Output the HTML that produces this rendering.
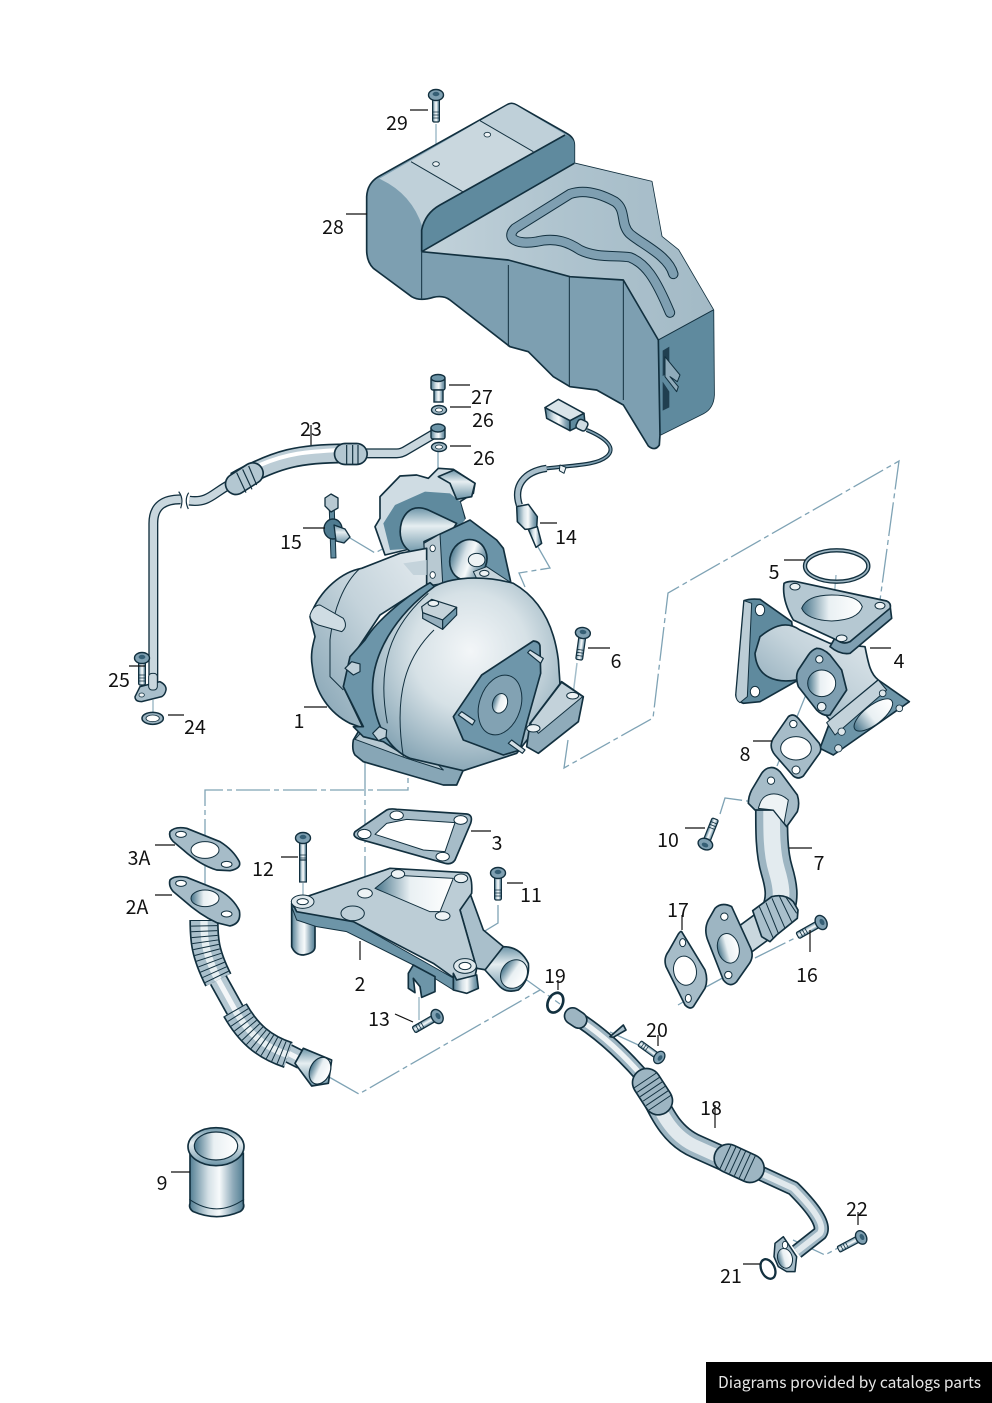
<!DOCTYPE html>
<html><head><meta charset="utf-8"><title>Turbocharger parts diagram</title>
<style>
html,body{margin:0;padding:0;background:#fff}
svg{display:block}
text{font-family:"Noto Sans CJK JP","Liberation Sans",sans-serif;font-size:19.5px;fill:#111;text-anchor:middle}
.l{stroke:#111;stroke-width:1.2;fill:none}
.d{stroke:#7fa3b5;stroke-width:1.3;fill:none;stroke-dasharray:34 4 5 4}
.s{stroke:#a3bdca;stroke-width:1.5;fill:none}
</style></head><body>
<svg width="992" height="1403" viewBox="0 0 992 1403" xmlns="http://www.w3.org/2000/svg">
<defs>
<linearGradient id="cyl" x1="0" x2="1" y1="0" y2="0"><stop offset="0" stop-color="#517d92"/><stop offset=".35" stop-color="#d5e1e7"/><stop offset=".55" stop-color="#f7fafb"/><stop offset=".8" stop-color="#8fabba"/><stop offset="1" stop-color="#517d92"/></linearGradient>
<linearGradient id="cylv" x1="0" x2="0" y1="0" y2="1"><stop offset="0" stop-color="#6d95a8"/><stop offset=".4" stop-color="#e6eef1"/><stop offset="1" stop-color="#6d95a8"/></linearGradient>
<linearGradient id="flat" x1="0" x2="1" y1="0" y2="0"><stop offset="0" stop-color="#c2d2da"/><stop offset=".5" stop-color="#aec3ce"/><stop offset="1" stop-color="#a3bac6"/></linearGradient>
<linearGradient id="hsg" x1="1" x2="0" y1="0" y2="1"><stop offset="0" stop-color="#e4ebef"/><stop offset=".45" stop-color="#c4d3db"/><stop offset="1" stop-color="#7f9fb0"/></linearGradient>
<radialGradient id="main" cx=".52" cy=".38" r=".68"><stop offset="0" stop-color="#f3f6f8"/><stop offset=".45" stop-color="#d6e1e6"/><stop offset="1" stop-color="#7d9eaf"/></radialGradient>
<linearGradient id="hole" x1="0" x2="1" y1="0" y2="0"><stop offset="0" stop-color="#47748a"/><stop offset=".45" stop-color="#e9f0f3"/><stop offset="1" stop-color="#fff"/></linearGradient>
<g id="bolt"><rect x="-3.4" y="2" width="6.8" height="26" rx="1.5" fill="url(#cyl)" stroke="#12303f" stroke-width="1.2"/><path d="M-3.4 18h6.8M-3.4 21h6.8M-3.4 24h6.8" stroke="#12303f" stroke-width=".8"/><ellipse cx="0" cy="1" rx="7.5" ry="5.5" fill="#7fa0b2" stroke="#12303f" stroke-width="1.4"/><ellipse cx="0" cy="0" rx="3.4" ry="2.2" fill="#355f75"/></g>
</defs>

<!-- dash connector lines behind parts -->
<g>
<path class="d" d="M205 900V790H408V774"/>
<path class="d" d="M365 762V895"/>
<path class="d" d="M568 740L564 768L653 718L668 593L899 461L880 600"/>
<path class="d" d="M538 547L550 568L519 573L525 587"/>
<path class="d" d="M345 535L375 553L408 535L425 547"/>
<path class="d" d="M438 445V588"/>
<path class="s" d="M436 124V163"/>
<path class="d" d="M329 1077L359 1094L540 990"/>
<path class="d" d="M517 973L560 1004"/>
<path class="d" d="M720 814L725 798L762 803L820 660"/>
<path class="d" d="M706 987L728 975M755 958L795 938"/>
<path class="d" d="M498 905V923L465 943V963"/>
<path class="s" d="M303 883V900M419 997V1020M142 680V692M153 700V712"/>
<path class="s" d="M577 663L573 695"/>
<path class="d" d="M610 1032L645 1048"/>
<path class="d" d="M793 1240L825 1255L838 1248"/>
<path class="s" d="M836 575L833 612"/>
<path class="d" d="M678 1005L700 992"/>
</g>

<!-- 28 heat shield -->
<g transform="translate(340,80) scale(.33333)" stroke="#12303f" stroke-width="5" stroke-linejoin="round">
<path fill="#7d9fb1" d="M500 75Q515 65 530 75L680 160Q703 172 703 195V250L935 305L965 470L1015 510L1120 690L1122 945Q1120 985 1090 1000L960 1065L958 1095Q945 1115 925 1098L850 975L770 930L690 920L640 890L565 815L510 800L330 660Q310 645 280 652Q240 665 215 650L100 565Q80 545 80 510V350Q82 310 115 290Z"/>
<path stroke="none" fill="#bfd0d9" d="M118 296L500 77Q515 68 530 77L675 163L300 375Q262 395 247 440Q215 340 118 296Z"/>
<path stroke="none" fill="#c9d7de" d="M213 245L420 122L580 215L368 335Z"/>
<path stroke="none" fill="#5f8a9e" d="M675 165Q703 172 703 195V250L245 515V450Q255 400 300 375Z"/>
<path stroke="none" fill="url(#flat)" d="M703 250L935 305L965 470L1015 510L1120 690L955 780L850 600L690 590L505 540L245 515Z"/>
<path fill="none" stroke="#12303f" stroke-width="31" stroke-linecap="round" d="M1000 582C985 525 900 490 868 460C840 430 860 390 825 365C770 335 725 330 690 342L525 445C495 475 530 495 590 485C650 470 690 490 720 510C770 535 830 525 870 532C915 550 945 590 990 698"/>
<path fill="none" stroke="#7f9fb1" stroke-width="25" stroke-linecap="round" d="M1000 582C985 525 900 490 868 460C840 430 860 390 825 365C770 335 725 330 690 342L525 445C495 475 530 495 590 485C650 470 690 490 720 510C770 535 830 525 870 532C915 550 945 590 990 698"/>
<path stroke="none" fill="#5f8a9e" d="M955 780L1120 690L1122 945Q1120 985 1090 1000L960 1065Z"/>
<path fill="none" d="M245 515L505 540L690 590L850 600L955 780L960 1065M245 515L703 250M245 515V450Q255 400 300 375L675 165"/>
<path fill="none" stroke-width="3" d="M245 515V655M505 555V800M688 590V920M850 600V960M955 780L1120 690M213 245L368 335M420 122L580 215"/>
<path fill="#203f50" stroke="none" d="M968 812L988 800V878L968 888ZM968 905L988 935V982L968 992Z"/>
<path fill="#8fabba" stroke-width="3" d="M975 830L1020 885L1012 905L990 890L1015 920L1010 935L975 890Z"/>
<ellipse cx="288" cy="252" rx="10" ry="7" fill="#eef3f5" stroke-width="2.5"/><ellipse cx="442" cy="164" rx="10" ry="7" fill="#eef3f5" stroke-width="2.5"/>
</g>

<use href="#bolt" transform="translate(436,94)"/>

<!-- 27/26 -->
<g stroke="#12303f" stroke-width="1.4">
<rect x="431" y="377" width="14" height="13" rx="2" fill="url(#cyl)"/><rect x="434" y="390" width="9" height="12" fill="url(#cyl)"/><ellipse cx="438" cy="378" rx="7" ry="3.5" fill="#6d95a8"/>
<ellipse cx="439" cy="410" rx="7.5" ry="4.5" fill="#a3bbc7"/><ellipse cx="439" cy="410" rx="3.5" ry="2" fill="#fff" stroke-width=".8"/>
<ellipse cx="439" cy="447" rx="7.5" ry="4.5" fill="#a3bbc7"/><ellipse cx="439" cy="447" rx="3.5" ry="2" fill="#fff" stroke-width=".8"/>
</g>

<!-- 14 sensor -->
<g transform="translate(400,370) scale(.33333)" stroke="#12303f" stroke-width="4.5" stroke-linejoin="round">
<path fill="none" stroke-width="12" d="M560 180C620 205 650 235 620 260C590 285 530 285 440 295"/>
<path fill="none" stroke="#7f9fb1" stroke-width="5" d="M560 180C620 205 650 235 620 260C590 285 530 285 440 295"/>
<path fill="none" stroke-width="22" d="M440 295C370 305 340 350 358 405"/>
<path fill="none" stroke="#a9bfcb" stroke-width="14" d="M440 295C370 305 340 350 358 405"/>
<path fill="#d9e4e9" d="M435 113L475 88L552 130L510 152Z"/>
<path fill="url(#cyl)" d="M435 113L510 152V182L440 145Z"/>
<path fill="#5f8a9e" d="M510 152L552 130L555 160L510 182Z"/>
<rect x="530" y="150" width="32" height="30" rx="9" fill="#cfdce3" transform="rotate(25 545 165)"/>
<path fill="#eef3f5" d="M480 285L498 292L492 310L478 302Z" stroke-width="3"/>
<path fill="url(#cyl)" d="M350 410L385 403L412 440L410 475L375 478L352 455Z"/>
<path fill="url(#cyl)" d="M385 478L412 470L425 520L408 532Z"/>
</g>

<!-- 23 oil pipe -->
<g transform="translate(120,410) scale(.33333)" fill="none" stroke-linejoin="round">
<g stroke="#12303f" stroke-width="30"><path d="M100 840V340C100 285 135 268 182 268"/><path d="M208 272C270 280 280 245 345 215"/><path d="M730 130H830Q845 130 860 120L945 70"/></g>
<g stroke="#c9d7de" stroke-width="22"><path d="M100 840V340C100 285 135 268 182 268"/><path d="M208 272C270 280 280 245 345 215"/><path d="M730 130H830Q845 130 860 120L945 70"/></g>
<path stroke="#12303f" stroke-width="60" d="M345 215C470 145 540 130 680 130"/>
<path stroke="#bccdd6" stroke-width="50" d="M345 215C470 145 540 130 680 130"/>
<path stroke="#fff" stroke-width="12" d="M420 165C500 130 560 125 660 120"/>
<path stroke="#12303f" stroke-width="68" stroke-linecap="round" d="M348 222L398 190M675 132H710"/>
<path stroke="#b3c7d1" stroke-width="58" stroke-linecap="round" d="M348 222L398 190M675 132H710"/>
<path stroke="#12303f" stroke-width="3.5" d="M350 188L378 248M368 178L396 238M386 168L410 225M680 105V162M698 105V163M714 105V163"/>
<path stroke="#12303f" stroke-width="3.5" d="M176 245Q192 265 182 295M206 248Q192 270 205 297"/>
<path fill="#a9bfcb" stroke="#12303f" stroke-width="4.5" d="M45 860L60 830L120 815Q140 825 138 840Q135 855 125 860L65 875Q45 875 45 860Z"/>
<rect x="86" y="790" width="26" height="50" rx="10" fill="#c9d7de" stroke="#12303f" stroke-width="3"/>
<ellipse cx="65" cy="855" rx="8" ry="6" fill="#eef3f5" stroke="#12303f" stroke-width="2.5"/>
<ellipse cx="98" cy="925" rx="32" ry="18" fill="#9db5c2" stroke="#12303f" stroke-width="4.5"/><ellipse cx="98" cy="925" rx="20" ry="10" fill="#fff" stroke="#12303f" stroke-width="2.5"/>
</g>
<use href="#bolt" transform="translate(142,657)"/>
<g stroke="#12303f" stroke-width="1.4"><rect x="431" y="426" width="14" height="13" rx="2" fill="url(#cyl)"/><ellipse cx="438" cy="428" rx="7" ry="4" fill="#6d95a8"/></g>

<!-- 1 turbo -->
<g transform="translate(300,460) scale(.33333)" stroke="#12303f" stroke-width="5" stroke-linejoin="round">
<path fill="#cfdce3" d="M240 110L300 48L350 45L385 55L415 25L460 28L525 70L520 100L480 125L495 175L440 240L255 285L225 200L240 175Z"/>
<path stroke="none" fill="#5f8a9e" d="M250 190L285 135L375 95L450 100L480 125L495 180L420 260L270 270Z"/>
<path fill="url(#cylv)" d="M305 185C320 145 350 135 385 150L470 190L430 250L340 280C300 260 295 220 305 185Z"/>
<path fill="url(#cylv)" d="M415 50L462 30L525 70L515 110L470 118L450 70Z"/>
<path fill="#6b94a8" d="M372 245L510 180L590 240L610 265L632 365L380 380Z"/>
<ellipse cx="505" cy="300" rx="55" ry="62" fill="url(#cyl)" transform="rotate(20 505 300)"/>
<ellipse cx="530" cy="300" rx="25" ry="20" fill="#eef3f5" stroke-width="3"/>
<path fill="#c7d5dc" stroke-width="3" d="M520 335L560 320L628 365L585 395L535 365Z"/><ellipse cx="553" cy="340" rx="14" ry="9" fill="#eef3f5" stroke-width="3"/>
<path fill="#b8c9d2" stroke-width="3" d="M372 250L420 222L428 370L378 378Z"/>
<ellipse cx="398" cy="265" rx="8" ry="10" fill="#fff" stroke-width="2.5"/><ellipse cx="398" cy="345" rx="8" ry="10" fill="#fff" stroke-width="2.5"/>
<path fill="#87a6b6" d="M150 790L190 790L160 840Q155 870 165 885L190 905L430 975L470 975L490 930L330 800Z"/>
<path fill="#b7c9d2" stroke-width="3" d="M165 838L320 895L430 930L300 800L190 810Z"/>
<path fill="url(#hsg)" d="M30 470C60 385 130 335 185 325L300 280L380 265L380 375L240 465L170 570L130 680L190 805L150 790C90 760 45 700 37 620C30 580 40 550 45 530Z"/>
<path fill="none" stroke-width="3" d="M180 325C130 370 100 450 90 540L90 650L130 690"/>
<path fill="#cfdce3" stroke-width="3" d="M30 465Q40 435 60 435L130 475Q145 500 125 515L55 495Q30 485 30 465Z"/>
<path fill="#c4d3db" stroke="none" d="M310 310L380 300V345L340 345Z"/>
<path fill="#6c95a9" d="M390 368C300 420 225 490 195 540L150 590L130 680L190 800L160 800L190 830L250 845L320 890L240 720C200 600 280 470 410 385Z"/>
<path fill="url(#main)" d="M405 378C470 345 570 350 640 370C710 410 760 480 775 600L782 700L720 790L650 880L490 932L330 895C270 870 225 800 218 700C212 590 280 470 405 378Z"/>
<path fill="none" stroke-width="3" d="M402 510C320 590 280 700 310 890M385 400C270 500 230 620 262 790"/>
<path fill="#6e96aa" d="M460 770L545 645L700 543Q720 545 720 560L722 640L680 790L660 870L610 885L490 840Z"/>
<ellipse cx="600" cy="735" rx="62" ry="92" fill="#82a2b3" stroke-width="3" transform="rotate(18 600 735)"/>
<ellipse cx="600" cy="730" rx="22" ry="30" fill="url(#hole)" stroke-width="3" transform="rotate(18 600 730)"/>
<g fill="#d5e1e7" stroke-width="3.5"><path d="M683 578L690 570L730 595L722 610Z"/><path d="M475 765L485 755L525 782L517 795Z"/><path d="M625 850L635 840L675 870L667 880Z"/></g>
<path fill="#8fabba" d="M690 790L785 665L850 710L835 785L715 880L680 860Z"/>
<path fill="#c3d2da" stroke-width="3" d="M692 790L785 668L848 710L715 820Z"/>
<ellipse cx="818" cy="707" rx="18" ry="10" fill="#eef3f5" stroke-width="3"/><ellipse cx="700" cy="805" rx="20" ry="11" fill="#eef3f5" stroke-width="3"/>
<path fill="#c5d3da" stroke-width="3.5" d="M365 440L395 418L470 442L428 480L368 458Z"/><path fill="#96afbd" stroke-width="3.5" d="M368 458L428 480V508L368 475Z"/><path fill="#6f97aa" stroke-width="3.5" d="M428 480L470 442V465L428 508Z"/>
<ellipse cx="400" cy="430" rx="16" ry="9" fill="#eef3f5" stroke-width="3"/>
<path fill="#bfd0d9" stroke-width="3.5" d="M135 625L155 605L180 612L180 635L160 645Z"/>
<path fill="#bfd0d9" stroke-width="3.5" d="M218 820L238 800L260 810L258 832L235 842Z"/>
</g>
<use href="#bolt" transform="translate(583,632) rotate(8)"/>

<!-- 15 -->
<g stroke="#12303f" stroke-linejoin="round">
<rect x="330" y="510" width="5" height="48" fill="#5f8a9e" stroke-width="1" transform="rotate(-2 332 530)"/>
<path fill="#b8c9d2" stroke-width="1.3" d="M325 498L331 494L338 498V508L331 512L325 506Z"/>
<ellipse cx="333" cy="529" rx="9" ry="10" fill="#4f7b90" stroke-width="1.4"/>
<path fill="url(#cylv)" stroke-width="1.3" d="M334 525L345 529L350 537L344 543L336 541Z"/>
</g>

<!-- 4 manifold, 8, 7, 17, 5 -->
<g transform="translate(660,540) scale(.33333)" stroke="#12303f" stroke-width="5" stroke-linejoin="round">
<ellipse cx="530" cy="78" rx="95" ry="47" fill="none" stroke-width="13"/><ellipse cx="530" cy="78" rx="95" ry="47" fill="none" stroke="#9db5c2" stroke-width="5"/>
<path fill="#5f8a9e" d="M252 182Q270 175 300 178L395 245L415 420L300 485L250 490Q225 480 228 460Z"/>
<path fill="#bccdd6" stroke-width="3" d="M252 182L275 190L262 470L240 488Q226 480 228 460Z"/>
<ellipse cx="300" cy="210" rx="14" ry="17" fill="#fff" stroke-width="3"/><ellipse cx="285" cy="455" rx="14" ry="16" fill="#fff" stroke-width="3"/>
<path fill="url(#hsg)" d="M300 290C350 250 385 245 420 270L510 310L615 320C625 370 630 400 655 420L510 540L410 420C350 430 290 415 285 340Z"/>
<path fill="#6d95a8" d="M510 545L655 420L748 485L520 645L480 625Z"/>
<path fill="#c3d2da" stroke-width="3" d="M500 548L655 420L680 450L525 585Z"/>
<ellipse cx="640" cy="525" rx="70" ry="28" fill="url(#hole)" stroke-width="3" transform="rotate(-38 640 525)"/>
<circle cx="545" cy="575" r="11" fill="#dfe8ec" stroke-width="2.5"/><circle cx="535" cy="625" r="11" fill="#dfe8ec" stroke-width="2.5"/><circle cx="668" cy="460" r="10" fill="#dfe8ec" stroke-width="2.5"/><circle cx="718" cy="505" r="10" fill="#dfe8ec" stroke-width="2.5"/>
<path fill="#7f9fb1" d="M690 195L695 235L570 340Q540 345 510 320L530 285L570 305Z"/>
<path fill="#b5c8d2" d="M372 130Q385 122 410 125L680 183Q695 190 690 205L570 305Q550 315 530 300L400 240Q365 180 372 130Z"/>
<path fill="url(#hole)" stroke-width="3" d="M425 205Q440 165 515 165Q595 165 607 200Q595 240 515 243Q440 240 425 205Z"/>
<ellipse cx="405" cy="140" rx="15" ry="10" fill="#eef3f5" stroke-width="3"/><ellipse cx="660" cy="197" rx="15" ry="10" fill="#eef3f5" stroke-width="3"/><ellipse cx="545" cy="295" rx="16" ry="10" fill="#eef3f5" stroke-width="3"/>
<path fill="#7f9fb1" d="M470 325Q490 325 510 345L545 390L560 450L510 525Q490 530 470 510L415 440Q405 410 415 390L445 345Q455 330 470 325Z"/>
<ellipse cx="485" cy="430" rx="42" ry="40" fill="url(#hole)" stroke-width="3"/>
<circle cx="478" cy="358" r="11" fill="#eef3f5" stroke-width="3"/><circle cx="485" cy="500" r="13" fill="#eef3f5" stroke-width="3"/>
<path fill="#a6bcc8" d="M385 530Q400 518 415 535L478 610Q488 630 475 645L430 708Q415 720 400 708L345 645Q325 620 340 595Z"/>
<ellipse cx="408" cy="625" rx="46" ry="35" fill="#fff" stroke-width="3"/>
<circle cx="400" cy="552" r="11" fill="#fff" stroke-width="3"/><circle cx="408" cy="690" r="12" fill="#fff" stroke-width="3"/>
<g fill="none" stroke-linecap="butt">
<path stroke="#12303f" stroke-width="100" d="M335 780C335 850 332 930 350 990C365 1040 372 1080 345 1130"/>
<path stroke="#9db5c2" stroke-width="90" d="M335 780C335 850 332 930 350 990C365 1040 372 1080 345 1130"/>
<path stroke="#e3ebef" stroke-width="50" d="M335 780C335 850 332 930 350 990C365 1040 372 1080 345 1130"/>
<path stroke="#12303f" stroke-width="90" d="M225 1220L320 1150"/><path stroke="#c9d7de" stroke-width="80" d="M225 1220L320 1150"/>
</g>
<path fill="#a9bfcb" d="M278 1112L335 1070Q375 1060 400 1085L414 1110L412 1135L350 1185L330 1205L305 1190Z"/>
<path fill="none" stroke-width="3" d="M298 1100L340 1195M318 1088L355 1180M336 1075L375 1165M358 1068L395 1145M378 1072L410 1120"/>
<path fill="#a6bcc8" d="M330 683Q345 680 360 695L412 765Q420 790 412 815L380 860L340 810L285 810L265 790Q265 770 275 750L305 700Q315 685 330 683Z"/>
<path fill="#eef3f5" stroke-width="3" d="M300 790C310 760 350 750 385 780L372 850L340 810L295 805Z"/>
<circle cx="333" cy="722" r="11" fill="#fff" stroke-width="3"/>
<path fill="#9db5c2" d="M165 1105Q185 1085 215 1100L270 1220Q285 1250 265 1275L230 1325Q210 1345 190 1320L145 1205Q130 1170 145 1140Z"/>
<ellipse cx="205" cy="1225" rx="32" ry="45" fill="url(#hole)" stroke-width="3" transform="rotate(-15 205 1225)"/>
<circle cx="193" cy="1130" r="11" fill="#fff" stroke-width="3"/><circle cx="205" cy="1305" r="11" fill="#fff" stroke-width="3"/>
<path fill="#a6bcc8" d="M65 1175L135 1290Q145 1320 135 1345L100 1400Q90 1410 75 1395L18 1280Q10 1255 25 1235L55 1182Q62 1172 65 1175Z"/>
<ellipse cx="75" cy="1292" rx="34" ry="44" fill="#fff" stroke-width="3" transform="rotate(-12 75 1292)"/>
<ellipse cx="68" cy="1208" rx="9" ry="12" fill="#fff" stroke-width="3"/><ellipse cx="85" cy="1375" rx="9" ry="12" fill="#fff" stroke-width="3"/>
</g>
<use href="#bolt" transform="translate(705,845) rotate(201.7)"/>
<use href="#bolt" transform="translate(822,922) rotate(60.6)"/>

<!-- 3A, 2A, hose, 3, 2 -->
<g transform="translate(120,800) scale(.33333)" stroke="#12303f" stroke-width="5" stroke-linejoin="round">
<path fill="#a6bcc8" d="M150 95Q165 78 200 85L300 125Q340 150 358 185Q365 205 330 212L290 210Q240 195 190 150L160 125Q145 110 150 95Z"/>
<ellipse cx="255" cy="150" rx="42" ry="25" fill="#fff" stroke-width="3"/><ellipse cx="183" cy="103" rx="16" ry="9" fill="#fff" stroke-width="3"/><ellipse cx="320" cy="193" rx="16" ry="9" fill="#fff" stroke-width="3"/>
<g fill="none">
<path stroke="#12303f" stroke-width="88" d="M252 360C252 420 255 460 295 540"/><path stroke="#a9bfcb" stroke-width="78" d="M252 360C252 420 255 460 295 540"/>
<path stroke="#e6eef1" stroke-width="22" d="M252 360C252 420 255 460 295 540"/>
<path stroke="#12303f" stroke-width="78" stroke-dasharray="3 13" d="M252 360C252 420 255 460 295 540"/>
<path stroke="#12303f" stroke-width="58" d="M295 540L345 630"/><path stroke="#b5c8d2" stroke-width="48" d="M295 540L345 630"/><path stroke="#f3f6f8" stroke-width="16" d="M295 540L345 630"/>
<path stroke="#12303f" stroke-width="58" d="M495 755L545 780"/><path stroke="#b5c8d2" stroke-width="48" d="M495 755L545 780"/><path stroke="#f3f6f8" stroke-width="16" d="M495 755L545 780"/>
<path stroke="#12303f" stroke-width="82" d="M345 630C385 700 430 740 505 765"/><path stroke="#a9bfcb" stroke-width="72" d="M345 630C385 700 430 740 505 765"/>
<path stroke="#e6eef1" stroke-width="20" d="M345 630C385 700 430 740 505 765"/>
<path stroke="#12303f" stroke-width="72" stroke-dasharray="3 13" d="M345 630C385 700 430 740 505 765"/>
</g>
<path fill="url(#cylv)" d="M525 790L550 745L635 780L625 850L575 858Z"/>
<ellipse cx="600" cy="812" rx="30" ry="42" fill="url(#hole)" stroke-width="3.5" transform="rotate(25 600 812)"/>
<path fill="#a6bcc8" d="M150 240Q165 225 200 232L300 272Q340 295 358 332Q365 370 330 378L290 368Q240 345 190 300L160 275Q145 258 150 240Z"/>
<ellipse cx="255" cy="295" rx="42" ry="25" fill="url(#hole)" stroke-width="3"/><ellipse cx="183" cy="250" rx="16" ry="9" fill="#fff" stroke-width="3"/><ellipse cx="320" cy="342" rx="16" ry="9" fill="#fff" stroke-width="3"/>
<path fill="#a6bcc8" d="M705 95L800 30Q810 25 830 28L1040 42Q1060 45 1052 70L1005 180Q995 195 975 190L720 118Q695 110 705 95Z"/>
<path fill="#fff" stroke-width="3" d="M765 103L800 70L860 58L1005 68L975 155L910 150Z"/>
<ellipse cx="733" cy="102" rx="20" ry="14" fill="#fff" stroke-width="3"/><ellipse cx="830" cy="46" rx="20" ry="13" fill="#fff" stroke-width="3"/><ellipse cx="1022" cy="60" rx="20" ry="13" fill="#fff" stroke-width="3"/><ellipse cx="968" cy="170" rx="20" ry="13" fill="#fff" stroke-width="3"/>
<path fill="url(#cyl)" d="M515 310V440Q525 465 550 465Q585 460 585 440V370Z"/>
<path fill="#6d95a8" stroke-width="3" d="M515 320L530 360L590 380L680 395L880 495L1000 570L1010 540L700 365Z"/>
<path fill="#a9bfcb" d="M1020 330L1050 280L1090 390L1150 440L1100 510L1070 505Z"/>
<path fill="url(#cylv)" d="M1095 510L1150 440Q1200 440 1225 490Q1230 540 1195 570Q1160 580 1140 560Z"/>
<ellipse cx="1182" cy="522" rx="38" ry="45" fill="url(#hole)" stroke-width="3" transform="rotate(35 1182 522)"/>
<path fill="#bccdd6" d="M515 305L810 205L1040 218Q1058 225 1055 280L1020 330L1070 505L1065 530L1010 540L940 490L700 365L530 335Z"/>
<path fill="url(#hole)" stroke-width="3" d="M765 265L815 225L1000 235L960 335L930 335Z"/>
<ellipse cx="548" cy="305" rx="34" ry="20" fill="#dfe8ec" stroke-width="3"/><ellipse cx="548" cy="305" rx="17" ry="9" fill="#fff" stroke-width="3"/>
<ellipse cx="735" cy="280" rx="22" ry="14" fill="#eef3f5" stroke-width="3"/><ellipse cx="834" cy="222" rx="20" ry="13" fill="#eef3f5" stroke-width="3"/><ellipse cx="1023" cy="235" rx="20" ry="13" fill="#eef3f5" stroke-width="3"/><ellipse cx="968" cy="348" rx="22" ry="13" fill="#eef3f5" stroke-width="3"/>
<ellipse cx="1035" cy="498" rx="34" ry="22" fill="#dfe8ec" stroke-width="3"/><ellipse cx="1035" cy="498" rx="18" ry="11" fill="#fff" stroke-width="3"/>
<ellipse cx="698" cy="340" rx="35" ry="22" fill="#bfd0d9" stroke-width="3"/>
<path fill="url(#cyl)" d="M1000 520L1010 540L1070 525L1075 565L1040 580L1000 570Z"/>
<path fill="#6d95a8" d="M865 520L880 495L945 530L945 575L905 592L900 560L880 535L885 578L865 565Z"/>
</g>
<use href="#bolt" transform="translate(303,837)"/>
<rect x="299.6" y="860" width="6.8" height="22" fill="url(#cyl)" stroke="#12303f" stroke-width="1.2"/>
<use href="#bolt" transform="translate(498,872)"/>
<use href="#bolt" transform="translate(438,1016) rotate(60)"/>
<use href="#bolt" transform="translate(660,1058) rotate(126) scale(.9)"/>
<use href="#bolt" transform="translate(862,1237) rotate(62) scale(.95)"/>

<!-- 18 hose -->
<g transform="translate(530,980) scale(.33333)" stroke-linejoin="round" fill="none">
<ellipse cx="76" cy="68" rx="22" ry="31" stroke="#12303f" stroke-width="8" transform="rotate(25 76 68)"/>
<path stroke="#12303f" stroke-width="46" d="M125 105C200 150 280 220 355 310"/><path stroke="#9db5c2" stroke-width="36" d="M125 105C200 150 280 220 355 310"/><path stroke="#eef3f5" stroke-width="16" d="M125 105C200 150 280 220 355 310"/>
<path stroke="#12303f" stroke-width="54" stroke-linecap="round" d="M128 108L146 120"/><path stroke="#9db5c2" stroke-width="44" stroke-linecap="round" d="M128 108L146 120"/>
<path stroke="#12303f" stroke-width="74" d="M370 350C400 410 430 470 500 500L600 545"/><path stroke="#9db5c2" stroke-width="64" d="M370 350C400 410 430 470 500 500L600 545"/><path stroke="#e1e9ed" stroke-width="38" d="M370 350C400 410 430 470 500 500L600 545"/>
<path stroke="#12303f" stroke-width="46" d="M660 565L790 625C830 665 890 730 870 760L800 815"/><path stroke="#9db5c2" stroke-width="36" d="M660 565L790 625C830 665 890 730 870 760L800 815"/><path stroke="#e1e9ed" stroke-width="18" d="M660 565L790 625C830 665 890 730 870 760L800 815"/>
<path stroke="#12303f" stroke-width="90" stroke-linecap="round" d="M350 308L385 362M595 535L660 565"/><path stroke="#9db5c2" stroke-width="80" stroke-linecap="round" d="M350 308L385 362M595 535L660 565"/>
<path stroke="#12303f" stroke-width="80" stroke-dasharray="3 13" d="M345 300L392 370M585 530L672 570"/>
<path stroke="#12303f" stroke-width="5" fill="#a6bcc8" d="M240 170L280 135L288 150L250 172Z"/>
<path fill="#a6bcc8" stroke="#12303f" stroke-width="4.5" d="M732 830L735 790L760 770L800 830L795 875L770 875L745 860Z"/>
<ellipse cx="765" cy="835" rx="22" ry="30" fill="url(#hole)" stroke="#12303f" stroke-width="3" transform="rotate(-15 765 835)"/><ellipse cx="765" cy="795" rx="8" ry="11" fill="#fff" stroke="#12303f" stroke-width="2.5"/>
<ellipse cx="714" cy="867" rx="20" ry="31" stroke="#12303f" stroke-width="7" transform="rotate(-25 714 867)"/>
</g>

<!-- 9 sleeve -->
<g transform="translate(150,1110) scale(.33333)" stroke="#12303f" stroke-width="5">
<path fill="url(#cyl)" d="M120 130V280Q115 295 130 305Q200 335 270 305Q285 295 280 280V130Z"/>
<path fill="none" stroke-width="3" d="M118 268Q200 325 282 268"/>
<ellipse cx="198" cy="110" rx="84" ry="57" fill="url(#cylv)" stroke-width="5"/><ellipse cx="198" cy="108" rx="65" ry="42" fill="url(#hole)" stroke-width="3.5"/>
</g>

<!-- leaders -->
<path class="l" d="M410 110H428M346 214H367M449 385H470M450 407H471M450 446H471M311 425V445M303 528H325M540 523H557M784 560H805M588 648H610M870 648H891M753 741H772M304 707H327M155 845H175M155 895H172M471 831H491M281 857H298M507 883H523M685 828H705M789 848H812M360 941V960M395 1014L413 1022M682 915V930M810 930V952M558 980V990M658 1035V1046M715 1105V1128M858 1212V1225M743 1264H760M171 1172H190M129 666H145M168 715H184"/>

<!-- labels -->
<text x="397" y="130">29</text><text x="333" y="234">28</text><text x="482" y="404">27</text><text x="483" y="427">26</text><text x="484" y="465">26</text>
<text x="311" y="436">23</text><text x="291" y="549">15</text><text x="566" y="544">14</text><text x="774" y="579">5</text><text x="616" y="668">6</text>
<text x="899" y="668">4</text><text x="745" y="761">8</text><text x="299" y="728">1</text><text x="139" y="865">3A</text><text x="137" y="914">2A</text>
<text x="497" y="850">3</text><text x="263" y="876">12</text><text x="531" y="902">11</text><text x="668" y="847">10</text><text x="819" y="870">7</text>
<text x="360" y="991">2</text><text x="379" y="1026">13</text><text x="678" y="917">17</text><text x="807" y="982">16</text><text x="555" y="983">19</text>
<text x="657" y="1037">20</text><text x="711" y="1115">18</text><text x="857" y="1216">22</text><text x="731" y="1283">21</text><text x="162" y="1190">9</text>
<text x="119" y="687">25</text><text x="195" y="734">24</text>

<!-- footer -->
<rect x="706" y="1362" width="286" height="41" fill="#000"/>
<text x="718" y="1388" textLength="263" lengthAdjust="spacingAndGlyphs" style="font-size:16px;fill:#e6e6e6;text-anchor:start">Diagrams provided by catalogs parts</text>
</svg>
</body></html>
